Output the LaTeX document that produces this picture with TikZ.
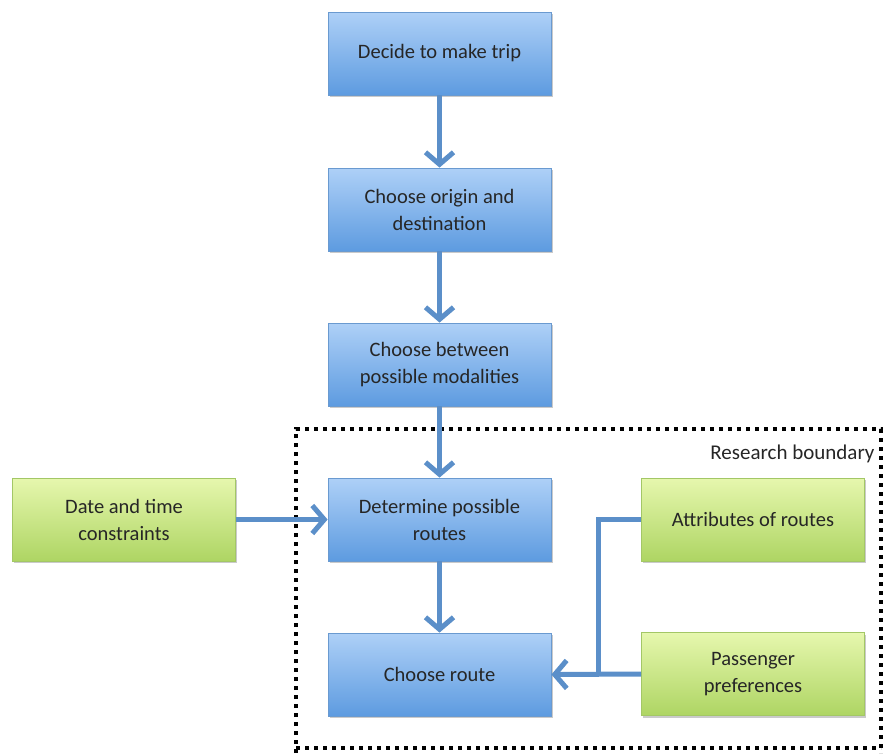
\documentclass[tikz,border=0pt]{standalone}
\usepackage{fontspec}
\setmainfont{Carlito}
\usetikzlibrary{arrows.meta,shadows}
\definecolor{arrowblue}{HTML}{5B8FC9}
\definecolor{bluetop}{HTML}{AED0F7}
\definecolor{bluebot}{HTML}{5D9BE0}
\definecolor{blueedge}{HTML}{6A9AD0}
\definecolor{greentop}{HTML}{E6F7AE}
\definecolor{greenbot}{HTML}{AED563}
\definecolor{greenedge}{HTML}{A3C766}
\tikzset{
  x=1pt, y=-1pt,
  box/.style={minimum width=223pt, minimum height=83pt, align=center, inner sep=2pt,
    font=\fontsize{20.5}{27}\selectfont, text=black!85,
    drop shadow={shadow xshift=1.5pt, shadow yshift=-2pt, opacity=0.35, fill=black!60}},
  bluebox/.style={box, draw=blueedge, line width=0.8pt, top color=bluetop, bottom color=bluebot},
  greenbox/.style={box, draw=greenedge, line width=0.8pt, top color=greentop, bottom color=greenbot},
  conn/.style={draw=arrowblue, line width=5pt},
  arr/.style={conn, -{Straight Barb[length=12pt, width=28pt, line width=5pt]}},
  boundary/.style={draw=black, line width=4pt, dash pattern=on 4pt off 5pt}
}
\begin{document}
\begin{tikzpicture}
\useasboundingbox (0,0) rectangle (885,753);
% boundary
\draw[boundary] (296,753) -- (296,429) -- (881,429) -- (881,753);
\draw[boundary] (296,748) -- (881,748);
\node[anchor=east, font=\fontsize{21}{24}\selectfont, text=black!85] (rb) at (878,454) {Research boundary};
% nodes
\node[bluebox] (n1) at (439.5,53.5) {Decide to make trip};
\node[bluebox] (n2) at (439.5,209.5) {Choose origin and\\destination};
\node[bluebox] (n3) at (439.5,364.5) {Choose between\\possible modalities};
\node[bluebox] (n4) at (439.5,519.5) {Determine possible\\routes};
\node[bluebox] (n5) at (439.5,674.5) {Choose route};
\node[greenbox] (g1) at (124,519.5) {Date and time\\constraints};
\node[greenbox] (g2) at (753,519.5) {Attributes of routes};
\node[greenbox] (g3) at (753,674) {Passenger\\preferences};
\coordinate (j) at (598,674);
% connectors
\draw[arr] (n1) -- (n2);
\draw[arr] (n2) -- (n3);
\draw[arr] (n3) -- (n4);
\draw[arr] (n4) -- (n5);
\draw[arr] (g1) -- (n4);
\draw[conn] (g2.west) -| (j);
\draw[arr] (g3.west) -- (n5.east);
\end{tikzpicture}
\end{document}
